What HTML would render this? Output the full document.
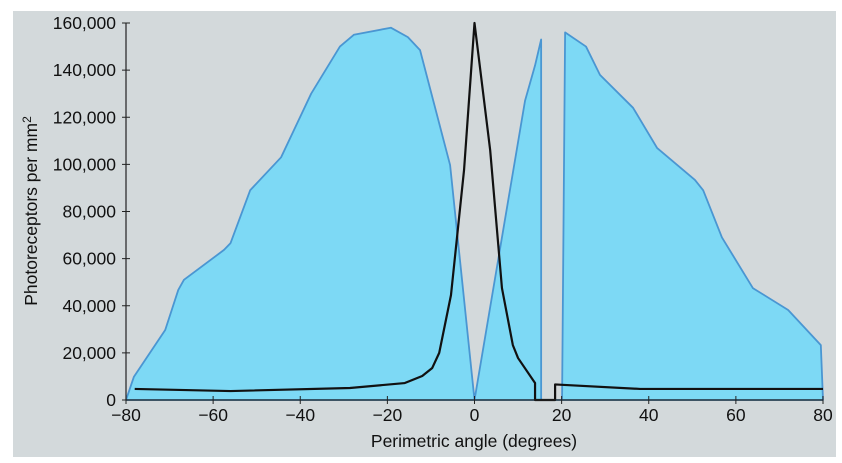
<!DOCTYPE html>
<html><head><meta charset="utf-8"><style>
body{margin:0;background:#fff;}
svg{display:block;font-family:"Liberation Sans",Arial,sans-serif;}
</style></head><body>
<svg id="c" width="842" height="463">
<rect x="13" y="11" width="823" height="446" fill="#d3d9db"/>
<g id="plot"></g>
<text x="474" y="447" font-size="17.5" text-anchor="middle" fill="#111">Perimetric angle (degrees)</text>
<text transform="translate(37,211) rotate(-90)" font-size="17.5" text-anchor="middle" fill="#111">Photoreceptors per mm<tspan dy="-6" font-size="12">2</tspan></text>
</svg>
<script>
const rodAngles=[-80,-78.2,-71,-68,-66.7,-57.5,-56,-51.5,-44.4,-37.5,-30.9,-27.7,-19.2,-15.3,-12.5,-5.6,0,11.6,13.9,15.3,15.3,20.1,20.8,25.6,28.8,36.4,41.9,50.6,52.5,56.8,63.9,72,79.5,80];
const rodValues=[0,9800,29700,46700,51000,63700,66600,89000,103000,130000,150000,155000,158000,154000,148500,99700,0,127000,142000,153000,0,0,156000,150000,138000,124000,107000,93400,89000,69000,47500,38200,23300,0];
const coneAngles=[-78,-56,-28.6,-16,-12,-9.7,-8.1,-5.4,-2.4,0,3.6,6.3,8.8,10,13.9,13.9,18.5,18.5,38,80];
const coneValues=[4700,3800,5100,7200,10200,13600,20000,44500,97600,160000,106000,47500,23300,17800,7200,0,0,6600,4700,4700];
const xTicks=[-80,-60,-40,-20,0,20,40,60,80];
const yTicks=[0,20000,40000,60000,80000,100000,120000,140000,160000];
const X=v=>126+(v+80)/160*697;
const Y=v=>400-v/160000*377;
const NS="http://www.w3.org/2000/svg";
const g=document.getElementById('plot');
function mk(t,a){const e=document.createElementNS(NS,t);for(const k in a)e.setAttribute(k,a[k]);g.appendChild(e);return e;}
let pts=rodAngles.map((a,i)=>X(a)+','+Y(rodValues[i])).join(' ');
let area=mk('polygon',{points:pts,fill:'#7dd9f5',stroke:'#4a96d2','stroke-width':1.8,'stroke-linejoin':'round'});


let cone=mk('polyline',{points:coneAngles.map((a,i)=>X(a)+','+Y(coneValues[i])).join(' '),fill:'none',stroke:'#111','stroke-width':2.2,'stroke-linejoin':'round'});


let xa=mk('line',{x1:X(-80),x2:X(80),y1:400,y2:400,stroke:'#222','stroke-width':1.2});


let ya=mk('line',{x1:126,x2:126,y1:Y(160000),y2:400,stroke:'#222','stroke-width':1.2});


xTicks.forEach(t=>{
 let l=mk('line',{x1:X(t),x2:X(t),y1:396,y2:404,stroke:'#222'});
 
 
 let tx=mk('text',{x:X(t),y:421,'font-size':17.5,'text-anchor':'middle',fill:'#111'});
 tx.textContent=(t<0?'\u2212'+(-t):t);
 
 
});
yTicks.forEach(t=>{
 let l=mk('line',{x1:122,x2:130,y1:Y(t),y2:Y(t),stroke:'#222'});
 
 
 let tx=mk('text',{x:116,y:Y(t)+6,'font-size':17.5,'text-anchor':'end',fill:'#111'});
 tx.textContent=t.toLocaleString('en-US');
 
 
});
</script>
</body></html>
